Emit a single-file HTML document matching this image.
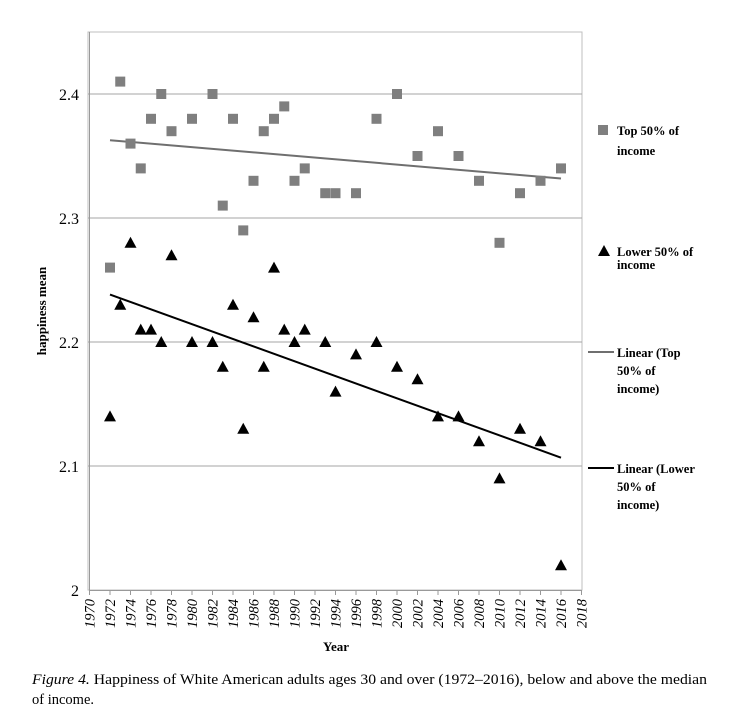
<!DOCTYPE html>
<html><head><meta charset="utf-8"><style>
body{margin:0;background:#fff;}
svg{display:block;font-family:"Liberation Serif",serif;}
</style></head><body>
<svg id="chart" width="756" height="720" viewBox="0 0 756 720" xmlns="http://www.w3.org/2000/svg">
<rect x="88" y="32" width="494" height="558" fill="none" stroke="#bfbfbf" stroke-width="1"/>
<g id="grid"></g><g id="axes"></g><g id="marks"></g>
<text transform="translate(46,311) rotate(-90)" text-anchor="middle" font-size="13" font-weight="bold">happiness mean</text>
<text x="336" y="651" text-anchor="middle" font-size="13" font-weight="bold">Year</text>
<g font-size="12.5" font-weight="bold">
<rect x="598" y="125" width="10" height="10" fill="#7f7f7f"/>
<text x="617" y="135">Top 50% of</text><text x="617" y="155">income</text>
<polygon points="604,245 598,256 610,256" fill="#000"/>
<text x="617" y="256">Lower 50% of</text><text x="617" y="269">income</text>
<line x1="588" y1="352" x2="614" y2="352" stroke="#6f6f6f" stroke-width="2"/>
<text x="617" y="357">Linear (Top</text><text x="617" y="375">50% of</text><text x="617" y="393">income)</text>
<line x1="588" y1="468" x2="614" y2="468" stroke="#000" stroke-width="2"/>
<text x="617" y="473">Linear (Lower</text><text x="617" y="491">50% of</text><text x="617" y="509">income)</text>
</g>
<text font-size="14.5" x="32" y="684" textLength="675" lengthAdjust="spacingAndGlyphs"><tspan font-style="italic">Figure 4.</tspan>    Happiness of White American adults ages 30 and over (1972–2016), below and above the median</text>
<text font-size="14.5" x="32" y="704">of income.</text>
</svg>
<script>
const years=[1972,1973,1974,1975,1976,1977,1978,1980,1982,1983,1984,1985,1986,1987,1988,1989,1990,1991,1993,1994,1996,1998,2000,2002,2004,2006,2008,2010,2012,2014,2016];
const topVals=[2.26,2.41,2.36,2.34,2.38,2.40,2.37,2.38,2.40,2.31,2.38,2.29,2.33,2.37,2.38,2.39,2.33,2.34,2.32,2.32,2.32,2.38,2.40,2.35,2.37,2.35,2.33,2.28,2.32,2.33,2.34];
const lowerVals=[2.14,2.23,2.28,2.21,2.21,2.20,2.27,2.20,2.20,2.18,2.23,2.13,2.22,2.18,2.26,2.21,2.20,2.21,2.20,2.16,2.19,2.20,2.18,2.17,2.14,2.14,2.12,2.09,2.13,2.12,2.02];
const yTicks=[2,2.1,2.2,2.3,2.4];
const yTickLabels=["2","2.1","2.2","2.3","2.4"];
const xTicks=[1970,1972,1974,1976,1978,1980,1982,1984,1986,1988,1990,1992,1994,1996,1998,2000,2002,2004,2006,2008,2010,2012,2014,2016,2018];
const NS="http://www.w3.org/2000/svg";
function X(v){return 89.5+(v-1970)*(492/48);}
function Y(v){return 590-(v-2)*1240;}
function mk(t,a,p){const e=document.createElementNS(NS,t);for(const k in a)e.setAttribute(k,a[k]);p.appendChild(e);return e;}
const grid=document.getElementById('grid'),axes=document.getElementById('axes'),marks=document.getElementById('marks');
yTicks.forEach((t,i)=>{
  if(t>2){const l=mk('line',{x1:88,x2:582,y1:Y(t),y2:Y(t),stroke:'#a6a6a6','stroke-width':1},grid);
  
  }
  const tx=mk('text',{x:79,y:Y(t)+6,'text-anchor':'end','font-size':16},axes);tx.textContent=yTickLabels[i];
  
  
});
mk('line',{x1:89,x2:582,y1:590.5,y2:590.5,stroke:'#999'},axes);
mk('line',{x1:89.5,x2:89.5,y1:32,y2:591,stroke:'#999'},axes);
xTicks.forEach(t=>{
  mk('line',{x1:X(t),x2:X(t),y1:590,y2:595,stroke:'#999'},axes);
  const tx=mk('text',{transform:`translate(${X(t)+5},${599}) rotate(-90)`,'text-anchor':'end','font-size':14.5,'font-style':'italic'},axes);
  tx.textContent=t;
  
  
});
function fit(ys){const n=years.length;let sx=0,sy=0,sxy=0,sxx=0;years.forEach((x,i)=>{sx+=x;sy+=ys[i];sxy+=x*ys[i];sxx+=x*x;});const b=(n*sxy-sx*sy)/(n*sxx-sx*sx);return [b,(sy-b*sx)/n];}
[[topVals,'#6f6f6f','trend-top'],[lowerVals,'#000','trend-lower']].forEach(([v,c,nm])=>{
  const [b,a]=fit(v);const x0=years[0],x1=years[years.length-1];
  const l=mk('line',{x1:X(x0),y1:Y(a+b*x0),x2:X(x1),y2:Y(a+b*x1),stroke:c,'stroke-width':2},marks);
  
  
});
years.forEach((yr,i)=>{
  const s=mk('rect',{x:X(yr)-5,y:Y(topVals[i])-5,width:10,height:10,fill:'#7f7f7f'},marks);
  
  
  const x=X(yr),y=Y(lowerVals[i]);
  const p=mk('polygon',{points:`${x},${y-6} ${x-6},${y+5} ${x+6},${y+5}`,fill:'#000'},marks);
  
  
});
</script>
</body></html>
